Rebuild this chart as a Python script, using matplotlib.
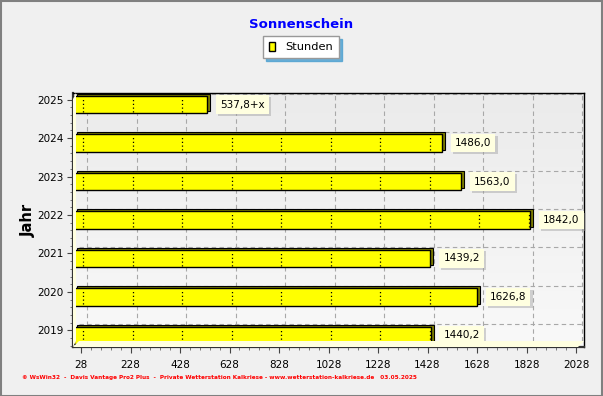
import numpy as np
import matplotlib
matplotlib.use("Agg")
import matplotlib.pyplot as plt
import matplotlib.patheffects as pe
from matplotlib.transforms import offset_copy
from matplotlib.patches import Patch, Polygon, Rectangle

years = [2019, 2020, 2021, 2022, 2023, 2024, 2025]
hours = [1440.2, 1626.8, 1439.2, 1842.0, 1563.0, 1486.0, 537.8]
labels = ["1440,2", "1626,8", "1439,2", "1842,0", "1563,0", "1486,0", "537,8+x"]
xticks = [28, 228, 428, 628, 828, 1028, 1228, 1428, 1628, 1828, 2028]

W, H = 603, 396
fig = plt.figure(figsize=(W / 100, H / 100), dpi=100)
fig.patch.set_facecolor("#f0f0f0")

# axes box in image pixels (front plane)
L, R, T, B = 73, 584, 93, 347
ax = fig.add_axes([L / W, 1 - B / H, (R - L) / W, (B - T) / H])
ax.set_xlim(-4.4, 2060)
ax.set_ylim(2018.57, 2025.17)
ax.set_facecolor("none")

# background gradient
grad = np.linspace(0, 1, 100).reshape(-1, 1)
ax.imshow(grad, extent=[-4.4, 2060, 2018.57, 2025.17], aspect="auto",
          cmap=matplotlib.colors.LinearSegmentedColormap.from_list("g", ["#f9f9f9", "#ebebeb"]),
          origin="lower", zorder=0)

# cream left wall and floor (3D look), in display pixels
d = 6
floor = Polygon([[L, H - B], [R - d, H - B], [R, H - B + d], [L + d, H - B + d]],
                closed=True, transform=None, facecolor="#ffffe0", edgecolor="none", zorder=1)
wall = Polygon([[L, H - B], [L, H - T - d], [L + 3, H - T], [L + 3, H - B + d]],
               closed=True, transform=None, facecolor="#ffffe0", edgecolor="none", zorder=1)
fig.add_artist(floor)
fig.add_artist(wall)

# back-plane grid
back = offset_copy(ax.transData, fig=fig, x=d, y=d, units="dots")
for xv in xticks:
    ax.plot([xv, xv], [2018.57, 2025.17], transform=back, color="#a8a8a8",
            lw=0.8, ls=(0, (4, 3)), zorder=1)
for yv in years:
    ax.plot([-4.4, 2060], [yv, yv], transform=back, color="#a8a8a8",
            lw=0.8, ls=(0, (4, 3)), zorder=1)

# bars with 3D side face
bar_tr = offset_copy(ax.transData, fig=fig, x=0, y=-5, units="dots")
side_tr = offset_copy(ax.transData, fig=fig, x=3, y=-3, units="dots")
bh = 0.46
ax.barh(years, hours, height=bh, left=0, color="#808000", edgecolor="black",
        lw=0.8, transform=side_tr, zorder=2)
ax.barh(years, hours, height=bh, left=0, color="#ffff00", edgecolor="black",
        lw=1.0, transform=bar_tr, zorder=3)
for yv, hv in zip(years, hours):
    for xv in xticks:
        if xv + 8 < hv - 4:
            ax.plot([xv + 8, xv + 8], [yv - bh / 2 + 0.04, yv + bh / 2 - 0.04],
                    transform=bar_tr, color="black", lw=0.9, ls=(0, (1, 2)), zorder=4)

# value labels
for yv, hv, lab in zip(years, hours, labels):
    t = ax.annotate(lab, (hv, yv), xytext=(13, -5), textcoords="offset pixels",
                    ha="left", va="center", fontsize=7.5, zorder=5,
                    bbox=dict(boxstyle="square,pad=0.4", facecolor="#ffffe0", edgecolor="none"))
    t.get_bbox_patch().set_path_effects([
        pe.SimplePatchShadow(offset=(1.5, -1.5), shadow_rgbFace="#a0a0a0", alpha=0.45),
        pe.Normal()])

# spines and ticks
for s in ["top", "right"]:
    ax.spines[s].set_color("black")
    ax.spines[s].set_linewidth(1.0)
ax.spines["left"].set_color("#333333")
ax.spines["left"].set_linewidth(1.6)
ax.spines["bottom"].set_color("#333333")
ax.spines["bottom"].set_linewidth(1.6)
ax.set_xticks(xticks)
ax.set_xticklabels([str(v) for v in xticks])
ax.set_xticks([28 + 40 * k for k in range(51)], minor=True)
ax.set_yticks(years)
ax.set_yticklabels([str(v) for v in years])
ax.set_yticks([2018.6 + 0.2 * k for k in range(33)], minor=True)
ax.tick_params(axis="both", which="major", labelsize=7.5, length=4, color="#444444", pad=3)
ax.tick_params(axis="x", which="major", pad=5)
ax.tick_params(axis="both", which="minor", length=2, color="#666666")
ax.set_ylabel("Jahr", fontsize=10.5, fontweight="bold")
ax.yaxis.set_label_coords((36 - L) / (R - L), 0.5)

# title
fig.text(0.5, 1 - 25 / H, "Sonnenschein", ha="center", va="center",
         fontsize=9.5, fontweight="bold", color="#0000ff")

# legend
leg = fig.legend(handles=[Patch(facecolor="#ffff00", edgecolor="black")], labels=["Stunden"],
                 loc="center", bbox_to_anchor=(301 / W, 1 - 47 / H), fontsize=8.2,
                 frameon=True, fancybox=False, edgecolor="#999999", facecolor="white",
                 framealpha=1, handlelength=0.6, handleheight=0.9, handletextpad=0.9,
                 borderpad=0.5, borderaxespad=0, shadow={"color": "#4a9fd0", "alpha": 0.8})
leg.get_frame().set_linewidth(1.0)

# footer
fig.text(22 / W, 1 - 377 / H,
         "© WsWin32  -  Davis Vantage Pro2 Plus  -  Private Wetterstation Kalkriese - www.wetterstation-kalkriese.de   03.05.2025",
         ha="left", va="center", fontsize=4.15, fontweight="bold", color="#ff0000",
         family=["Liberation Sans Narrow", "DejaVu Sans"])

# outer frame
fig.add_artist(Rectangle((0.5, 0.5), W - 1.5, H - 1.5, transform=None, fill=False,
                         edgecolor="#808080", lw=1.5))

fig.savefig("out.png", dpi=100)
